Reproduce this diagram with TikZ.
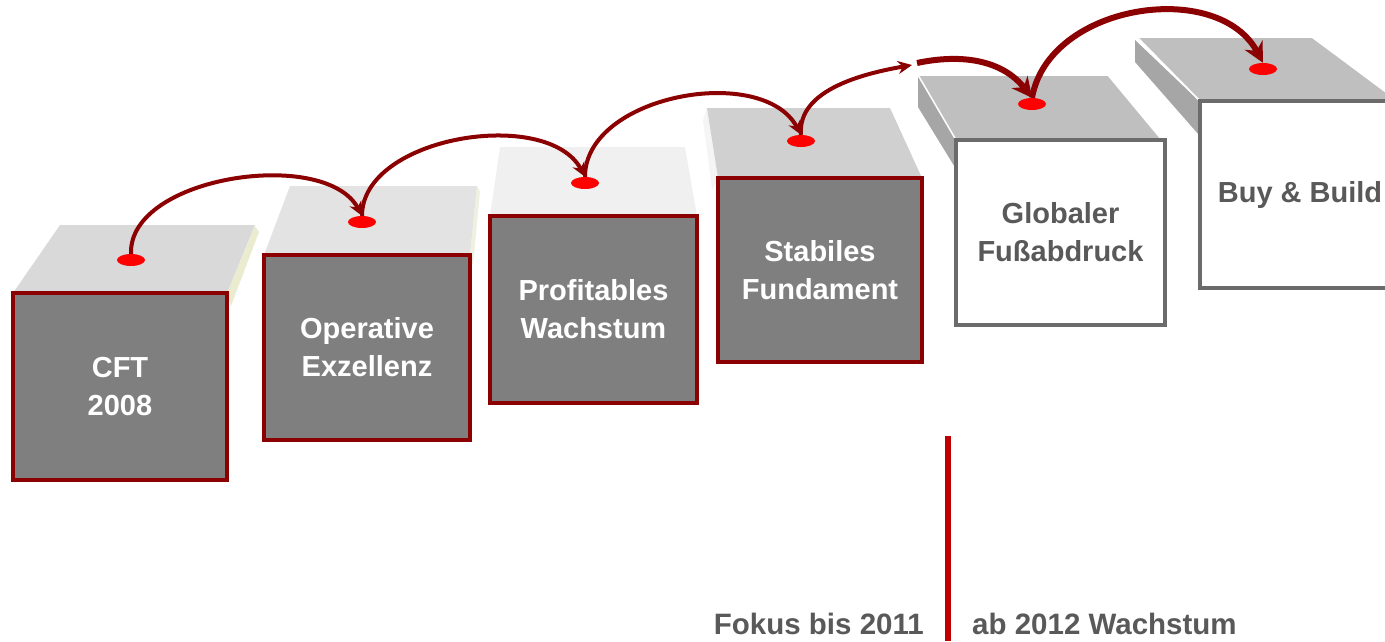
\documentclass[tikz,border=0pt]{standalone}
\usepackage{fontspec}
\setmainfont{Liberation Sans}
\usetikzlibrary{arrows.meta,shapes.geometric}
\definecolor{boxred}{HTML}{8B0000}
\definecolor{boxgray}{HTML}{7F7F7F}
\definecolor{framegray}{HTML}{6B6B6B}
\definecolor{txtgray}{HTML}{595959}
\definecolor{dotred}{HTML}{FF0000}
\definecolor{divred}{HTML}{C00000}
\begin{document}
\begin{tikzpicture}[x=1pt,y=-1pt,
  past/.style={draw=boxred,line width=3.5pt,fill=boxgray,text=white,
    font=\fontsize{29}{38}\selectfont\bfseries,align=center,inner sep=0pt},
  future/.style={draw=framegray,line width=3.5pt,fill=white,text=txtgray,
    font=\fontsize{29}{38}\selectfont\bfseries,align=center,inner sep=0pt},
  spot/.style={ellipse,fill=dotred,minimum width=28pt,minimum height=12pt,inner sep=0pt},
  hop/.style={draw=boxred,line width=4pt,-{Stealth[length=14pt,width=13pt]}},
  bighop/.style={draw=boxred,line width=6pt,-{Stealth[length=20pt,width=20pt]}},
  caption/.style={text=txtgray,font=\fontsize{29.5}{34}\selectfont\bfseries,inner sep=0pt}]
\useasboundingbox (0,0) rectangle (1385,641);
\clip (0,0) rectangle (1385,641);

% top and side faces of the steps
\fill[fill={rgb,255:red,235;green,235;blue,208}] (227,293) -- (255,226) -- (259,232) -- (231,306) -- cycle;
\fill[fill={rgb,255:red,217;green,217;blue,217}] (13,293) -- (60,225) -- (255,225) -- (227,293) -- cycle;
\fill[fill={rgb,255:red,240;green,240;blue,225}] (470,255) -- (477,186) -- (480,192) -- (473,265) -- cycle;
\fill[fill={rgb,255:red,227;green,227;blue,227}] (264,255) -- (290,186) -- (477,186) -- (470,255) -- cycle;
\fill[fill={rgb,255:red,240;green,240;blue,240}] (490,216) -- (500,147) -- (685,147) -- (697,216) -- cycle;
\fill[fill={rgb,255:red,245;green,245;blue,245}] (707,108) -- (718,178) -- (712,190) -- (703,120) -- cycle;
\fill[fill={rgb,255:red,208;green,208;blue,208}] (718,178) -- (707,108) -- (890,108) -- (922,178) -- cycle;
\fill[fill={rgb,255:red,166;green,166;blue,166}] (918,76) -- (956,140) -- (956,169) -- (918,107) -- cycle;
\filldraw[fill={rgb,255:red,191;green,191;blue,191},draw=white,line width=1.5pt]
  (956,140) -- (918,75) -- (1108,75) -- (1162,140) -- cycle;
\fill[fill={rgb,255:red,166;green,166;blue,166}] (1135,40) -- (1199,101) -- (1199,135) -- (1135,62) -- cycle;
\filldraw[fill={rgb,255:red,191;green,191;blue,191},draw=white,line width=1.5pt]
  (1200,101) -- (1137,37) -- (1312,37) -- (1398,101) -- cycle;

% front faces with labels
\node[past,minimum width=214pt,minimum height=187pt] (cft) at (120,386.5) {CFT\\2008};
\node[past,minimum width=206pt,minimum height=185pt] (opex) at (367,347.5) {Operative\\Exzellenz};
\node[past,minimum width=207pt,minimum height=187pt] (prof) at (593.5,309.5) {Profitables\\Wachstum};
\node[past,minimum width=204pt,minimum height=184pt] (stab) at (820,270) {Stabiles\\Fundament};
\node[future,minimum width=209pt,minimum height=185pt] (glob) at (1060.5,232.5) {Globaler\\Fußabdruck};
\node[future,minimum width=200pt,minimum height=187pt] (buy) at (1300,194.5) {Buy \& Build};

% markers on the step tops
\node[spot] (d1) at (131,260) {};
\node[spot] (d2) at (362,222) {};
\node[spot] (d3) at (585,183) {};
\node[spot] (d4) at (801,141) {};
\node[spot] (d5) at (1032,104) {};
\node[spot] (d6) at (1263,69) {};
\coordinate (gapA) at (912,65);
\coordinate (gapB) at (917,63);

% jumps from step to step
\draw[hop] (d1.north) to[out=92,in=118,looseness=0.85] (d2.north);
\draw[hop] (d2.north) to[out=90,in=118,looseness=0.9] (d3.north);
\draw[hop] (d3.north) to[out=90,in=118,looseness=0.95] (d4.north);
\draw[hop] (d4.north) to[out=95,in=190,looseness=0.9] (gapA);
\draw[bighop] (gapB) to[out=12,in=128,looseness=1] (d5.north);
\draw[bighop] (d5.north) to[out=80,in=118,looseness=1.05] (d6.north);

% divider and period captions
\draw[divred,line width=6pt] (948,436) -- (948,641);
\node[caption,anchor=base east] (fokus) at (924,634) {Fokus bis 2011};
\node[caption,anchor=base west] (ab) at (972,634) {ab 2012 Wachstum};
\end{tikzpicture}
\end{document}
